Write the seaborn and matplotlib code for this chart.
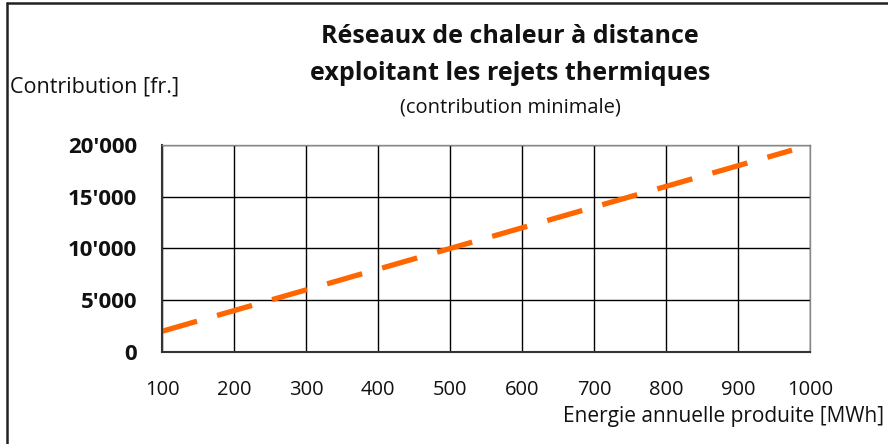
import matplotlib
matplotlib.use("Agg")
import matplotlib.pyplot as plt
import seaborn as sns
import pandas as pd
from matplotlib.lines import Line2D

energy = [100, 975]
contribution = [2000, 19500]
x_ticks = [100, 200, 300, 400, 500, 600, 700, 800, 900, 1000]
y_ticks = [0, 5000, 10000, 15000, 20000]
y_labels = ["0", "5'000", "10'000", "15'000", "20'000"]

sns.set_theme(style="white")
plt.rcParams['font.family'] = ['Open Sans', 'DejaVu Sans']

df = pd.DataFrame({"energy": energy, "contribution": contribution})

fig = plt.figure(figsize=(8.88, 4.44), dpi=100)
ax = fig.add_axes([162/888, 1-352/444, (810-162)/888, (352-145)/444])

sns.lineplot(data=df, x="energy", y="contribution", ax=ax, color="#FF6600",
             linewidth=3.8, dashes=False)
ln = ax.lines[0]
ln.set_dashes([6.9, 3.95])
ln.set_dash_capstyle("butt")

ax.set_xlim(100, 1000)
ax.set_ylim(0, 20000)
ax.set_xticks(x_ticks)
ax.set_xticklabels([str(v) for v in x_ticks], fontsize=14.5)
ax.set_yticks(y_ticks)
ax.set_yticklabels(y_labels, fontsize=16, fontweight="bold")
ax.tick_params(axis="x", length=0, pad=20, colors="#111111")
ax.tick_params(axis="y", length=0, pad=18, colors="#111111")
ax.grid(True, color="black", linewidth=1)
ax.set_axisbelow(True)
ax.set_xlabel("")
ax.set_ylabel("")
for s in ["top", "right"]:
    ax.spines[s].set_color("#888888")
    ax.spines[s].set_linewidth(1)
for s in ["bottom", "left"]:
    ax.spines[s].set_color("#333333")
    ax.spines[s].set_linewidth(1.5)

fig.text(510/888, 1-36/444, "Réseaux de chaleur à distance", ha="center", va="center",
         fontsize=18, fontweight="bold", color="#111111")
fig.text(510/888, 1-74/444, "exploitant les rejets thermiques", ha="center", va="center",
         fontsize=18, fontweight="bold", color="#111111")
fig.text(510/888, 1-107/444, "(contribution minimale)", ha="center", va="center",
         fontsize=14.5, color="#111111")
fig.text(10/888, 1-87/444, "Contribution [fr.]", ha="left", va="center",
         fontsize=15.5, color="#111111")
fig.text(884/888, 1-416/444, "Energie annuelle produite [MWh]", ha="right", va="center",
         fontsize=15, color="#111111")

fig.add_artist(Line2D([6.5/888, 6.5/888], [0, 1-3.5/444], transform=fig.transFigure,
                      color="#222222", linewidth=1.8))
fig.add_artist(Line2D([6.5/888, 1], [1-3.5/444, 1-3.5/444], transform=fig.transFigure,
                      color="#222222", linewidth=1.8))

fig.savefig("out.png", dpi=100)
